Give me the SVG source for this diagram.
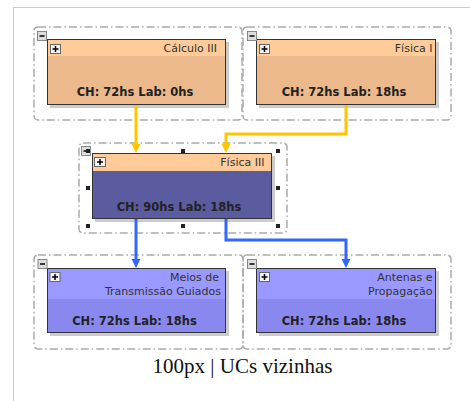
<svg xmlns="http://www.w3.org/2000/svg" width="470" height="401" viewBox="0 0 470 401">
<defs>
<style>
.grp{fill:none;stroke:#aaaaaa;stroke-width:1.5;stroke-dasharray:8 3 1.5 3}
.shadow{fill:#cccccc}
.frame{stroke:#333333;stroke-width:1;fill:none}
.hdr-o{fill:#FFCC99}
.body-o{fill:#EBB98B}
.body-d{fill:#5B5B9F}
.hdr-b{fill:#9999FF}
.body-b{fill:#8888EE}
.title{font-family:"DejaVu Sans",Verdana,sans-serif;font-size:11px;fill:#333333;text-anchor:end}
.info{font-family:"DejaVu Sans",Verdana,sans-serif;font-size:11.5px;font-weight:bold;fill:#222222;text-anchor:middle}
.minus{fill:#dddddd;stroke:#888888;stroke-width:1}
.plus{fill:#f4f4f4;stroke:#666666;stroke-width:1}
.sign{stroke:#000000;stroke-width:1.5}
.handle{fill:#222222}
.cy{fill:none;stroke:#FFC600;stroke-width:3}
.cb{fill:none;stroke:#3366FF;stroke-width:3}
</style>
<marker id="ay" markerUnits="userSpaceOnUse" markerWidth="10" markerHeight="10" refX="3" refY="4.5" orient="auto"><path d="M0,0 L9,4.5 L0,9 z" fill="#FFC600"/></marker>
<marker id="ab" markerUnits="userSpaceOnUse" markerWidth="10" markerHeight="10" refX="3" refY="4.5" orient="auto"><path d="M0,0 L9,4.5 L0,9 z" fill="#3366FF"/></marker>
</defs>
<rect x="0" y="0" width="470" height="401" fill="#ffffff"/>
<rect x="13.5" y="7.5" width="520" height="450" fill="#ffffff" stroke="#cccccc" stroke-width="1"/>
<text x="242.5" y="373" font-family="'Liberation Serif','Times New Roman',serif" font-size="21" fill="#111111" text-anchor="middle">100px | UCs vizinhas</text>

<g id="calculo3">
<rect class="grp" x="34" y="27" width="208" height="93" rx="4"/>
<rect class="shadow" x="50" y="42" width="179" height="66"/>
<rect class="body-o" x="47" y="39" width="179" height="66"/>
<rect class="hdr-o" x="47" y="39" width="179" height="17"/>
<rect class="frame" x="47.5" y="39.5" width="178" height="65"/>
<rect class="minus" x="37.5" y="31.5" width="9" height="9"/>
<line class="sign" x1="39.5" y1="36" x2="44.5" y2="36"/>
<rect class="plus" x="50.5" y="44.5" width="10" height="9"/>
<line class="sign" x1="52.5" y1="49" x2="58.5" y2="49"/><line class="sign" x1="55.5" y1="46" x2="55.5" y2="52"/>
<text class="title" x="217" y="52">Cálculo III</text>
<text class="info" x="135" y="96">CH: 72hs Lab: 0hs</text>
</g>

<g id="fisica1">
<rect class="grp" x="243" y="27" width="208" height="93" rx="4"/>
<rect class="shadow" x="259" y="42" width="180" height="66"/>
<rect class="body-o" x="256" y="39" width="180" height="66"/>
<rect class="hdr-o" x="256" y="39" width="180" height="17"/>
<rect class="frame" x="256.5" y="39.5" width="179" height="65"/>
<rect class="minus" x="247.5" y="31.5" width="9" height="9"/>
<line class="sign" x1="249.5" y1="36" x2="254.5" y2="36"/>
<rect class="plus" x="259.5" y="44.5" width="10" height="9"/>
<line class="sign" x1="261.5" y1="49" x2="267.5" y2="49"/><line class="sign" x1="264.5" y1="46" x2="264.5" y2="52"/>
<text class="title" x="432.5" y="52">Física I</text>
<text class="info" x="344" y="96">CH: 72hs Lab: 18hs</text>
</g>

<g id="fisica3">
<rect class="grp" x="79" y="143" width="208" height="90" rx="4"/>
<rect class="shadow" x="95" y="156" width="180" height="66"/>
<rect class="body-d" x="92" y="153" width="180" height="66"/>
<rect class="hdr-o" x="92" y="153" width="180" height="18"/>
<rect class="frame" x="92.5" y="153.5" width="179" height="65"/>
<rect class="minus" x="81.5" y="146.5" width="9" height="9"/>
<line class="sign" x1="83.5" y1="151" x2="88.5" y2="151"/>
<rect class="plus" x="94.5" y="157.5" width="11" height="9"/>
<line class="sign" x1="97" y1="162" x2="103" y2="162"/><line class="sign" x1="100" y1="159" x2="100" y2="165"/>
<text class="title" x="264.5" y="166">Física III</text>
<text class="info" x="179" y="211">CH: 90hs Lab: 18hs</text>
<rect class="handle" x="86" y="149" width="4" height="4"/>
<rect class="handle" x="181" y="149" width="4" height="4"/>
<rect class="handle" x="276" y="149" width="4" height="4"/>
<rect class="handle" x="86" y="186" width="4" height="4"/>
<rect class="handle" x="276" y="186" width="4" height="4"/>
<rect class="handle" x="86" y="224" width="4" height="4"/>
<rect class="handle" x="181" y="224" width="4" height="4"/>
<rect class="handle" x="276" y="224" width="4" height="4"/>
</g>

<g id="meios">
<rect class="grp" x="34" y="255" width="209" height="94" rx="4"/>
<rect class="shadow" x="50" y="271" width="179" height="65"/>
<rect class="body-b" x="47" y="268" width="179" height="65"/>
<rect class="hdr-b" x="47" y="268" width="179" height="31"/>
<rect class="frame" x="47.5" y="268.5" width="178" height="64"/>
<rect class="minus" x="38" y="259.5" width="9" height="9"/>
<line class="sign" x1="40" y1="264" x2="45" y2="264"/>
<rect class="plus" x="50" y="272.5" width="10" height="9"/>
<line class="sign" x1="52" y1="277" x2="58" y2="277"/><line class="sign" x1="55" y1="274" x2="55" y2="280"/>
<text class="title" x="219" y="281">Meios de</text>
<text class="title" x="221" y="295">Transmissão Guiados</text>
<text class="info" x="134.5" y="325">CH: 72hs Lab: 18hs</text>
</g>

<g id="antenas">
<rect class="grp" x="243" y="255" width="208" height="94" rx="4"/>
<rect class="shadow" x="259" y="271" width="180" height="65"/>
<rect class="body-b" x="256" y="268" width="180" height="65"/>
<rect class="hdr-b" x="256" y="268" width="180" height="31"/>
<rect class="frame" x="256.5" y="268.5" width="179" height="64"/>
<rect class="minus" x="247.5" y="259.5" width="9" height="9"/>
<line class="sign" x1="249.5" y1="264" x2="254.5" y2="264"/>
<rect class="plus" x="259.5" y="272.5" width="10" height="9"/>
<line class="sign" x1="261.5" y1="277" x2="267.5" y2="277"/><line class="sign" x1="264.5" y1="274" x2="264.5" y2="280"/>
<text class="title" x="432.5" y="281">Antenas e</text>
<text class="title" x="432.5" y="295">Propagação</text>
<text class="info" x="344" y="325">CH: 72hs Lab: 18hs</text>
</g>

<g id="connectors">
<path class="cy" d="M136,105 V147" marker-end="url(#ay)"/>
<path class="cy" d="M346,105 V134 H226 V147" marker-end="url(#ay)"/>
<path class="cb" d="M136,219 V262" marker-end="url(#ab)"/>
<path class="cb" d="M226,219 V240 H346 V262" marker-end="url(#ab)"/>
</g>
</svg>
